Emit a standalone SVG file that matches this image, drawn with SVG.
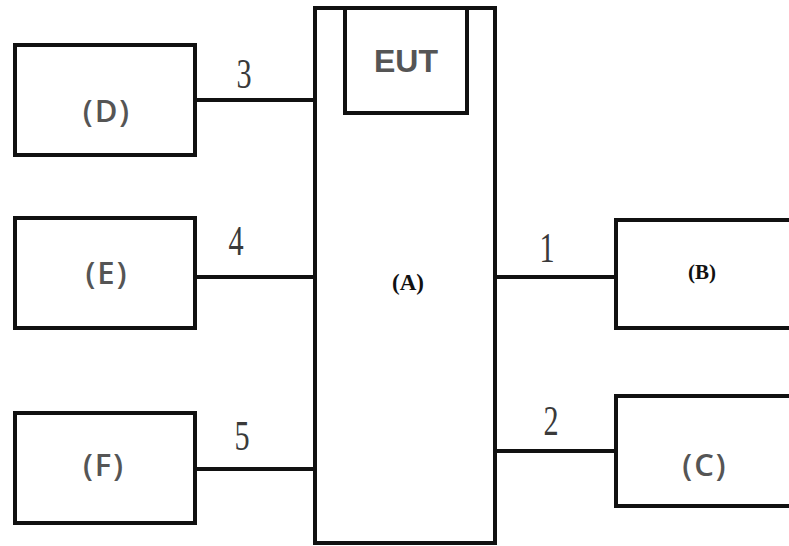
<svg xmlns="http://www.w3.org/2000/svg" width="789" height="546" viewBox="0 0 789 546">
<style>
.box{fill:#fff;stroke:#111;stroke-width:4}
.ln{stroke:#111;stroke-width:4;fill:none}
.lbl{font-family:"Open Sans","DejaVu Sans",sans-serif;font-size:31px;font-weight:600;fill:#555;text-anchor:middle;letter-spacing:2px}
.num{font-family:"Liberation Serif",serif;font-size:42px;fill:#3a3a3a;text-anchor:middle}
.bs{font-family:"Liberation Serif",serif;font-weight:bold;fill:#111;text-anchor:middle}
</style>
<rect width="789" height="546" fill="#fff"/>
<g id="connectors">
<line class="ln" x1="195" y1="100" x2="315" y2="100"/>
<line class="ln" x1="195" y1="277" x2="315" y2="277"/>
<line class="ln" x1="195" y1="469" x2="315" y2="469"/>
<line class="ln" x1="495" y1="277" x2="616" y2="277"/>
<line class="ln" x1="495" y1="451" x2="616" y2="451"/>
<text class="num" transform="translate(244 88) scale(0.72 1)">3</text>
<text class="num" transform="translate(236 255) scale(0.72 1)">4</text>
<text class="num" transform="translate(242 450) scale(0.72 1)">5</text>
<text class="num" transform="translate(547 262) scale(0.72 1)">1</text>
<text class="num" transform="translate(551 435) scale(0.72 1)">2</text>
</g>
<g id="A">
<rect class="box" x="315" y="8" width="180" height="535"/>
<text class="bs" x="408" y="290" font-size="23">(A)</text>
</g>
<g id="EUT">
<path class="ln" d="M345 10 V113 H467 V10"/>
<text x="406" y="72" font-family="Liberation Sans,sans-serif" font-weight="bold" font-size="32" fill="#555" text-anchor="middle">EUT</text>
</g>
<g id="D">
<rect class="box" x="15" y="45" width="180" height="110"/>
<text class="lbl" x="107" y="122">(D)</text>
</g>
<g id="E">
<rect class="box" x="15" y="218" width="180" height="110"/>
<text class="lbl" x="107" y="284">(E)</text>
</g>
<g id="F">
<rect class="box" x="15" y="413" width="180" height="110"/>
<text class="lbl" x="104" y="476">(F)</text>
</g>
<g id="B">
<rect class="box" x="616" y="220" width="190" height="108"/>
<text class="bs" x="702" y="279" font-size="21">(B)</text>
</g>
<g id="C">
<rect class="box" x="616" y="396" width="190" height="110"/>
<text class="lbl" x="705" y="476">(C)</text>
</g>
</svg>
